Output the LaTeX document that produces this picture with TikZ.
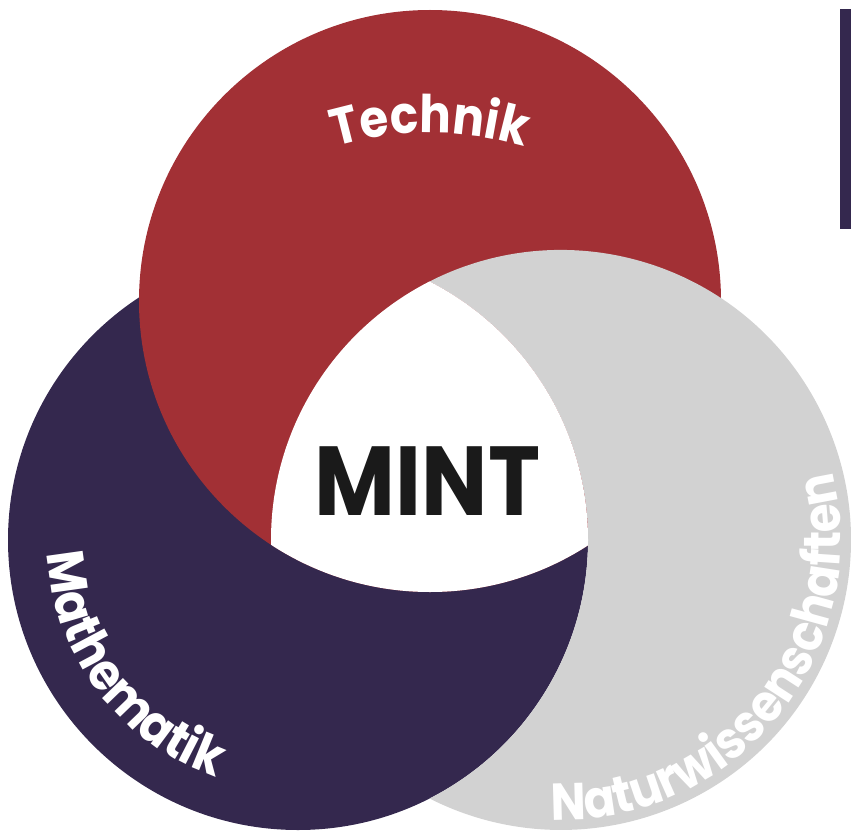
\documentclass[tikz,border=0pt]{standalone}
\usepackage{fontspec}
\setmainfont{Poppins}[FakeStretch=0.9]
\usetikzlibrary{decorations.text}
\definecolor{mintred}{RGB}{162,48,53}
\definecolor{mintpurple}{RGB}{52,40,78}
\definecolor{mintgray}{RGB}{210,210,210}
\definecolor{mintblack}{RGB}{26,26,26}
\begin{document}
\begin{tikzpicture}[x=1pt,y=1pt]
  \tikzset{ring text/.style={decorate, decoration={text along path, text align=center,
      text={|\fontsize{52}{52}\selectfont\bfseries\color{white}|#1}}}};
  \useasboundingbox (0,0) rectangle (851,-832);
  \coordinate (tech) at (430,-301);
  \coordinate (math) at (298,-540);
  \coordinate (natur) at (561,-540);
  \coordinate (techbase) at (430,-463);
  \coordinate (cut) at (429.5,-281.5);
  \fill[mintpurple] (math) circle (290);
  \fill[mintred] (tech) circle (291);
  % grey crescent, left of it the purple ring stays on top
  \fill[mintgray] (cut) arc[start angle=116.96, end angle=-116.96, radius=290]
    arc[start angle=-63.04, end angle=63.04, radius=290] -- cycle;
  \begin{scope}
    \clip (tech) circle (291);
    \clip (math) circle (290);
    \fill[white] (natur) circle (290);
  \end{scope}
  \fill[mintpurple] (840,-9) rectangle (851,-229);
  \node[text=mintblack, font=\fontsize{98}{98}\selectfont\bfseries] (mint) at (427.5,-481.5) {MINT};
  \path[ring text=Technik] ([shift={(120:330)}]techbase) arc[start angle=120, end angle=60, radius=330];
  \path[ring text=Mathematik] ([shift={(167:251)}]math) arc[start angle=167, end angle=267, radius=251];
  \path[ring text=Naturwissenschaften] ([shift={(-109:280)}]natur) arc[start angle=-109, end angle=31, radius=280];
\end{tikzpicture}
\end{document}
